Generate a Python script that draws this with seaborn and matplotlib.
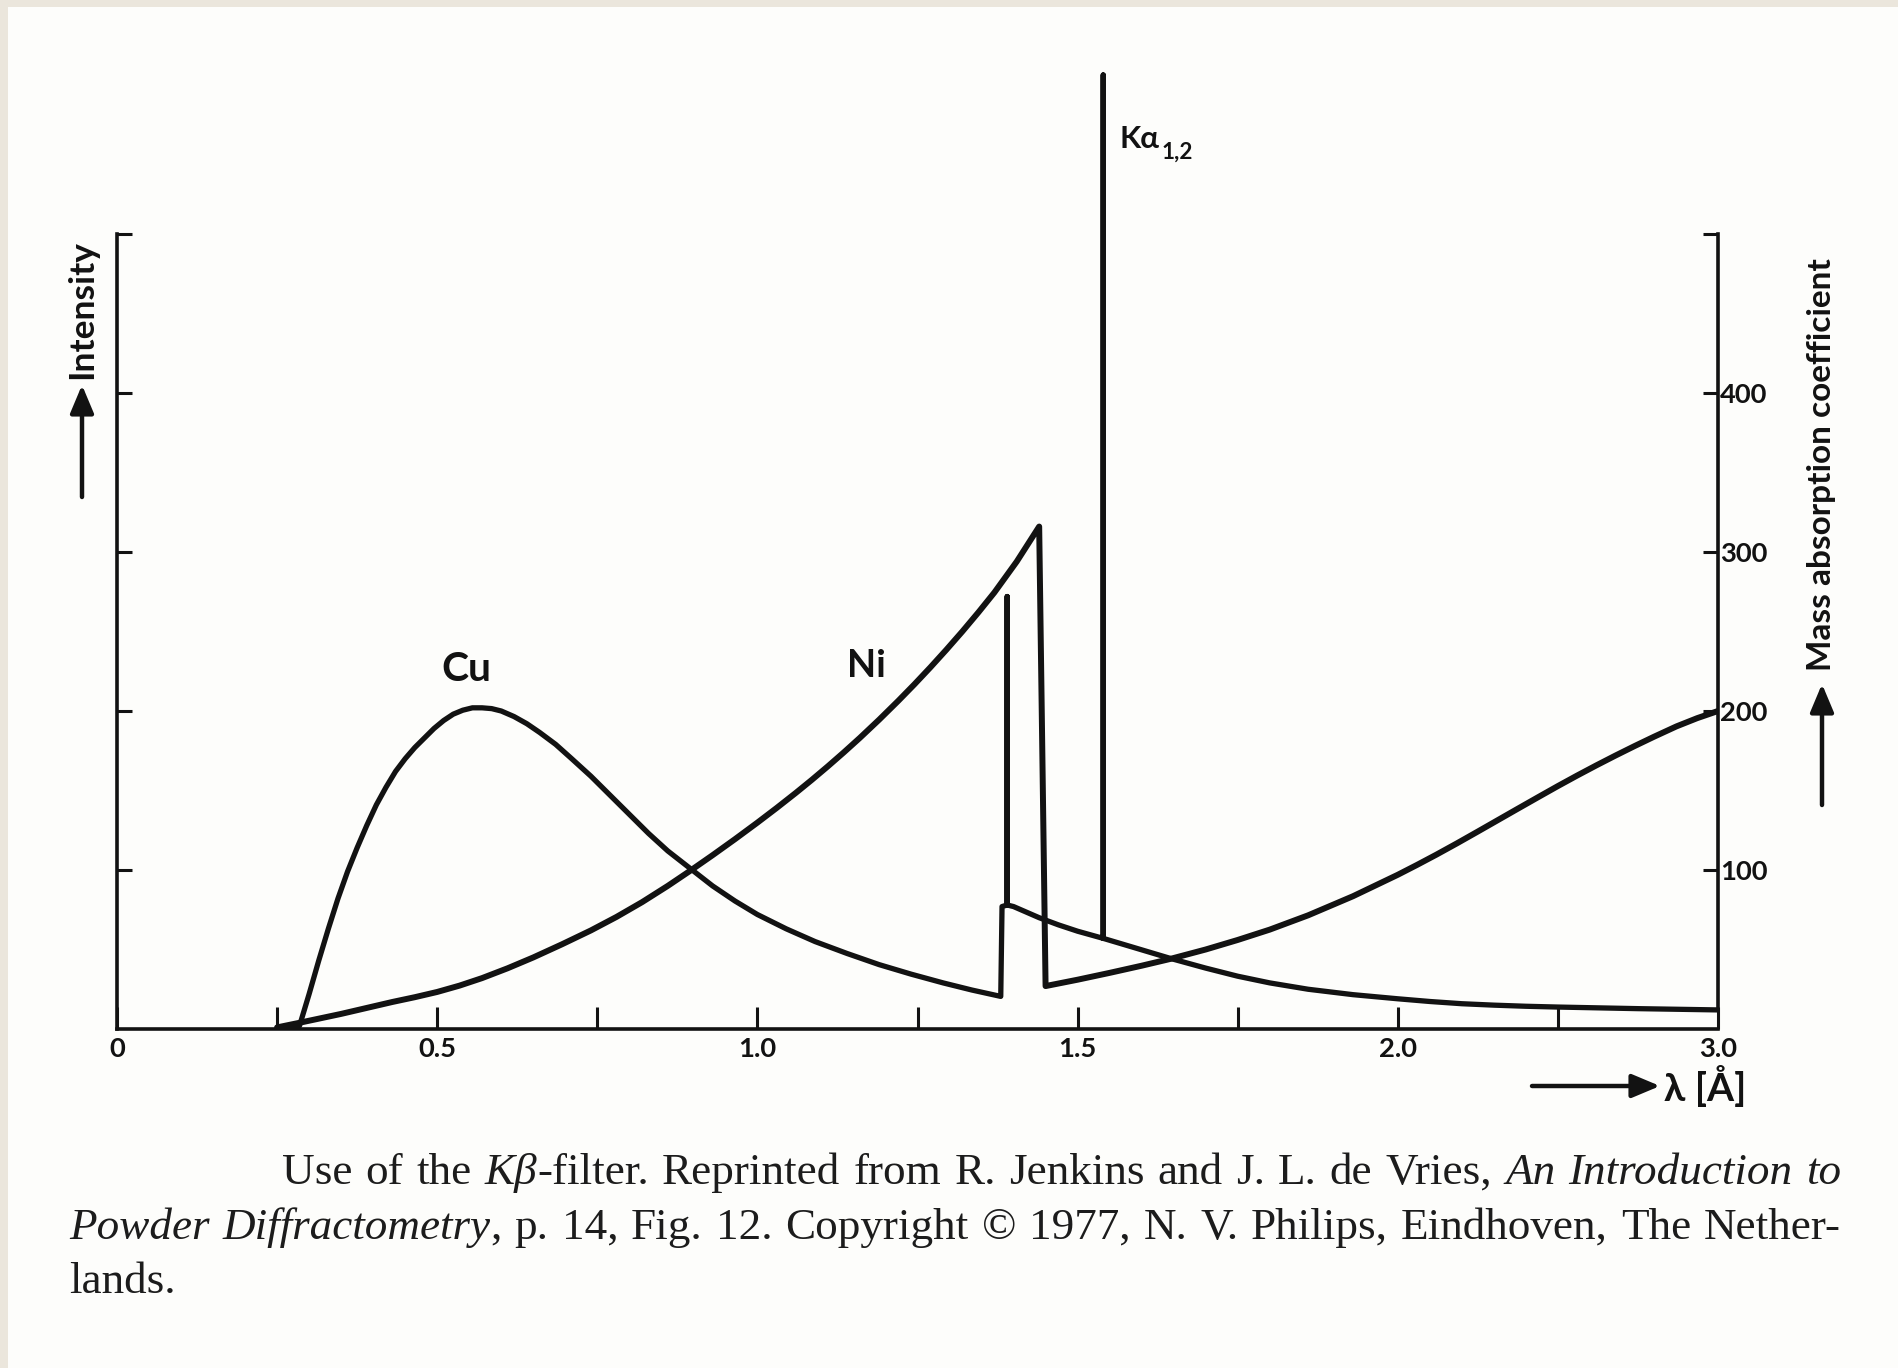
import numpy as np
import pandas as pd
import matplotlib
matplotlib.use("Agg")
import matplotlib.pyplot as plt
import seaborn as sns
from matplotlib.patches import Rectangle

# ---------------- data ----------------
cu_lambda = [0.25, 0.285, 0.30, 0.315, 0.33, 0.345, 0.36, 0.375, 0.39, 0.405, 0.42, 0.435,
             0.45, 0.465, 0.48, 0.495, 0.51, 0.525, 0.54, 0.555, 0.57, 0.585, 0.60, 0.62,
             0.64, 0.66, 0.685, 0.71, 0.74, 0.77, 0.80, 0.83, 0.86, 0.895, 0.93, 0.965,
             1.00, 1.045, 1.09, 1.14, 1.19, 1.24, 1.29, 1.335, 1.38,
             1.382, 1.390, 1.390, 1.390, 1.40, 1.42, 1.44, 1.47, 1.50, 1.54, 1.54, 1.54,
             1.59, 1.644, 1.70, 1.75, 1.80, 1.86, 1.93, 2.00, 2.10, 2.20, 2.30, 2.40,
             2.50, 2.625, 2.75, 2.875, 3.00]
cu_intensity = [0, 2, 22, 43, 63, 82, 99, 114, 128, 141, 152, 162,
                170, 177, 183, 189, 194, 198, 200.5, 202, 202, 201.5, 200, 196.5,
                192, 186.5, 179, 170, 159, 147, 135, 123, 112, 101, 90, 80.5,
                72, 63, 55, 47.5, 40.5, 34.5, 29, 24.5, 20.5,
                77, 78, 272, 78, 77, 73.5, 70, 65.5, 61.5, 57, 600, 57,
                51, 44.5, 38.3, 33.2, 29, 25, 21.6, 19, 17.3, 15.9, 15.0, 14.3,
                13.8, 13.3, 12.8, 12.4, 12.0]

ni_lambda = [0.25, 0.28, 0.35, 0.43, 0.465, 0.50, 0.535, 0.57, 0.61, 0.65, 0.695, 0.74,
             0.78, 0.82, 0.86, 0.895, 0.93, 0.965, 1.00, 1.03, 1.06, 1.085, 1.11, 1.135,
             1.16, 1.19, 1.22, 1.245, 1.27, 1.295, 1.32, 1.345, 1.37, 1.405, 1.44,
             1.45, 1.50, 1.55, 1.60, 1.644, 1.70, 1.75, 1.80, 1.86, 1.93, 2.00,
             2.06, 2.12, 2.185, 2.25, 2.31, 2.37, 2.44, 2.50, 2.56, 2.62, 2.68, 2.74,
             2.80, 2.87, 2.935, 3.00]
ni_mu = [1, 3.5, 9.5, 17, 20, 23.3, 27.3, 32, 38.2, 45, 53.3, 62,
         70.5, 79.8, 90, 99.5, 109.3, 119.4, 129.8, 139, 148.5, 156.7, 165.2, 174,
         183.1, 194.5, 206.4, 216.7, 227.4, 238.5, 250, 262, 274.5, 294, 316,
         27, 31, 35.3, 39.8, 44, 50, 56, 62.5, 71.5, 83.5, 97,
         103.2, 109.6, 116.8, 124.2, 131.1, 138, 146, 152.8, 159.4, 165.8, 172, 178,
         183.8, 190.3, 195.5, 200]

x_tick_values = [0, 0.25, 0.5, 0.75, 1.0, 1.25, 1.5, 1.75, 2.0, 2.5, 3.0]
x_tick_labels = ["0", "", "0.5", "", "1.0", "", "1.5", "", "2.0", "", "3.0"]
y_tick_values = [100, 200, 300, 400, 500]
y_tick_labels = ["100", "200", "300", "400", ""]

caption_lines = [
    "Use of the _Kβ_-filter. Reprinted from R. Jenkins and J. L. de Vries, _An Introduction to_",
    "_Powder Diffractometry_, p. 14, Fig. 12. Copyright © 1977, N. V. Philips, Eindhoven, The Nether-",
    "lands.",
]

# ---------------- style ----------------
sns.set_theme(style="white")
SANS = ["Lato", "DejaVu Sans"]
plt.rcParams["font.family"] = SANS
INK = "#121212"
BOLD = "bold"

W, H = 1899, 1368
fig = plt.figure(figsize=(W / 100, H / 100), dpi=100)
fig.patch.set_facecolor("#ebe6dc")
fig.add_artist(Rectangle((8 / W, 0), (W - 8) / W, (H - 7) / H,
                         transform=fig.transFigure, facecolor="#fdfdfb",
                         edgecolor="none", zorder=0))
renderer = fig.canvas.get_renderer()


def fitted_size(s, target_px, weight=BOLD, family=SANS, base=20.0):
    t = fig.text(0, 0, s, fontsize=base, fontweight=weight, family=family)
    w = t.get_window_extent(renderer).width
    t.remove()
    return base * target_px / w


x0_px, x1_px, y0_px = 117, 1718, 1029
px_per_unit = 1.59
ymax = 620
ax = fig.add_axes([x0_px / W, (H - y0_px) / H, (x1_px - x0_px) / W, ymax * px_per_unit / H])
ax.patch.set_alpha(0)


def fwd(x):
    x = np.asarray(x, dtype=float)
    return np.where(x <= 2.0, x, 2.0 + (x - 2.0) * 0.5)


def inv(u):
    u = np.asarray(u, dtype=float)
    return np.where(u <= 2.0, u, 2.0 + (u - 2.0) * 2.0)


ax.set_xscale("function", functions=(fwd, inv))

cu_df = pd.DataFrame({"lam": cu_lambda, "val": cu_intensity})
ni_df = pd.DataFrame({"lam": ni_lambda, "val": ni_mu})
line_kw = dict(sort=False, estimator=None, color=INK, solid_joinstyle="round",
               solid_capstyle="round", ax=ax)
sns.lineplot(data=cu_df, x="lam", y="val", lw=3.8, **line_kw)
sns.lineplot(data=ni_df, x="lam", y="val", lw=4.3, **line_kw)

ax.set_xlim(0, 3.0)
ax.set_ylim(0, ymax)
ax.set_xlabel("")
ax.set_ylabel("")

for side in ["left", "right", "bottom"]:
    ax.spines[side].set_visible(True)
    ax.spines[side].set_linewidth(2.6)
    ax.spines[side].set_color(INK)
ax.spines["top"].set_visible(False)
ax.spines["left"].set_bounds(0, 500)
ax.spines["right"].set_bounds(12, 500)
ax.spines["bottom"].set_bounds(0, 3.0)

tick_fs = fitted_size("400", 48)
ax.set_xticks(x_tick_values)
ax.set_xticklabels(x_tick_labels)
ax.xaxis.set_minor_locator(matplotlib.ticker.NullLocator())
ax.tick_params(axis="x", bottom=True, top=False, direction="in", length=16, width=2.2,
               pad=6, labelsize=tick_fs, colors=INK)
ax.set_yticks(y_tick_values)
ax.set_yticklabels(y_tick_labels)
ax.tick_params(axis="y", left=True, right=True, labelleft=False, labelright=True,
               direction="in", length=11, width=2.2, pad=1.5, labelsize=tick_fs, colors=INK)
for lbl in ax.get_xticklabels() + ax.get_yticklabels():
    lbl.set_fontweight(BOLD)

# curve labels
ax.text(0.545, 226, "Cu", fontsize=fitted_size("Cu", 50), fontweight=BOLD, color=INK,
        ha="center", va="center")
ax.text(1.171, 228, "Ni", fontsize=fitted_size("Ni", 39), fontweight=BOLD, color=INK,
        ha="center", va="center")

ka_fs = fitted_size("Kα", 40)
ka = ax.text(1.566, 560, "Kα", fontsize=ka_fs, fontweight=BOLD, color=INK, ha="left", va="center")
kb = ka.get_window_extent(renderer)
ax.annotate("1,2", xy=(1.566, 560), xycoords="data",
            xytext=(kb.width * 72 / 100 + 1, -10), textcoords="offset points",
            fontsize=ka_fs * 0.72, fontweight=BOLD, color=INK, ha="left", va="center")

# axis titles with arrows
arrow_kw = dict(arrowstyle="-|>,head_length=1.0,head_width=0.42", lw=3.2, color=INK,
                shrinkA=0, shrinkB=0, mutation_scale=17)


def fig_arrow(x_from, y_from, x_to, y_to):
    ax.annotate("", xy=(x_to / W, y_to / H), xycoords="figure fraction",
                xytext=(x_from / W, y_from / H), textcoords="figure fraction",
                arrowprops=arrow_kw, annotation_clip=False)


fig_arrow(82, H - 497, 82, H - 385)
fig.text(82 / W, (H - 310) / H, "Intensity", rotation=90, fontsize=fitted_size("Intensity", 139),
         fontweight=BOLD, color=INK, ha="center", va="center")

fig_arrow(1822, H - 805, 1822, H - 684)
fig.text(1822 / W, (H - 465) / H, "Mass absorption coefficient", rotation=90,
         fontsize=fitted_size("Mass absorption coefficient", 414),
         fontweight=BOLD, color=INK, ha="center", va="center")

fig_arrow(1532, H - 1086, 1660, H - 1086)
fig.text(1664 / W, (H - 1086) / H, "λ [Å]", fontsize=fitted_size("λ [Å]", 82), fontweight=BOLD,
         color=INK, ha="left", va="center")

# ---------------- caption (justified, serif) ----------------
SERIF = "Liberation Serif"
CAP_INK = "#1c1c1c"


def parse(line):
    words, ital = [], False
    for w in line.split(" "):
        segs = []
        for k, p in enumerate(w.split("_")):
            if k > 0:
                ital = not ital
            if p:
                segs.append((p, "italic" if ital else "normal"))
        words.append(segs)
    return words


def width_of(s, style, fs):
    t = fig.text(0, 0, s, fontsize=fs, family=SERIF, style=style)
    w = t.get_window_extent(renderer).width
    t.remove()
    return w


def word_width(segs, fs):
    return sum(width_of(s, st, fs) for s, st in segs)


cap_specs = [(282, 1841, H - 1184, True), (69, 1841, H - 1239, True), (69, 1841, H - 1293, False)]
parsed = [parse(l) for l in caption_lines]

fs = 30.0
space0 = width_of("x x", "normal", fs) - width_of("xx", "normal", fs)
factor = np.inf
for (xl, xr, yb, just), words in zip(cap_specs, parsed):
    if just:
        nat = sum(word_width(w, fs) for w in words) + space0 * (len(words) - 1)
        factor = min(factor, (xr - xl) / nat)
fs = fs * factor * 0.985

for (xl, xr, yb, just), words in zip(cap_specs, parsed):
    widths = [word_width(w, fs) for w in words]
    if just and len(words) > 1:
        gap = ((xr - xl) - sum(widths)) / (len(words) - 1)
    else:
        gap = width_of("x x", "normal", fs) - width_of("xx", "normal", fs)
    x = xl
    for segs, ww in zip(words, widths):
        xx = x
        for s, st in segs:
            fig.text(xx / W, yb / H, s, fontsize=fs, family=SERIF, style=st,
                     color=CAP_INK, ha="left", va="baseline")
            xx += width_of(s, st, fs)
        x += ww + gap

fig.savefig("out.png", dpi=100, facecolor=fig.get_facecolor())
